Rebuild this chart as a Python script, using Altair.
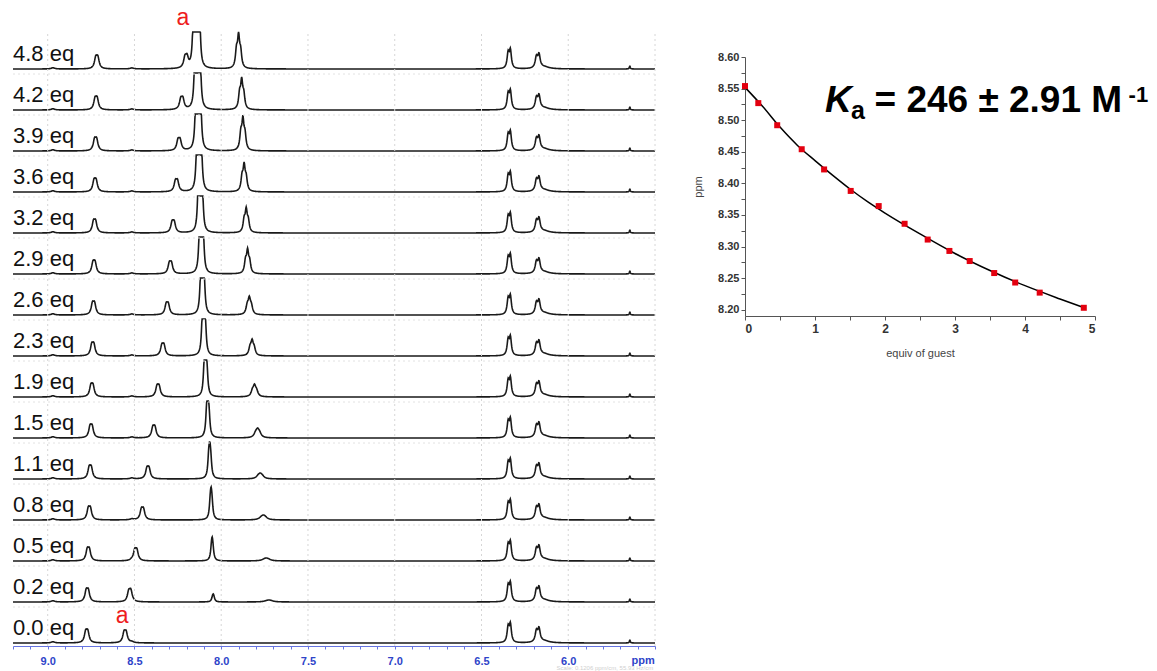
import numpy as np
import pandas as pd
import altair as alt

alt.data_transformers.disable_max_rows()

# ---------------------------------------------------------------- titration data
EQUIV = [0.0, 0.2, 0.5, 0.8, 1.1, 1.5, 1.9, 2.3, 2.6, 2.9, 3.2, 3.6, 3.9, 4.2, 4.8]
TRACE_LABELS = [f"{e:.1f} eq" for e in EQUIV]

# observed shift of proton a (ppm) against equivalents of guest
ISO_X = [0.0, 0.19, 0.46, 0.81, 1.13, 1.51, 1.91, 2.28, 2.61, 2.92, 3.21, 3.56, 3.86, 4.21, 4.84]
ISO_Y = [8.554, 8.527, 8.492, 8.454, 8.422, 8.388, 8.364, 8.336, 8.311, 8.293, 8.277, 8.258, 8.243, 8.227, 8.203]

# 1:1 binding fit through the titration points
FIT_X = [0.0, 0.25, 0.5, 0.75, 1.0, 1.25, 1.5, 1.75, 2.0, 2.5, 3.0, 3.5, 4.0, 4.5, 4.85]
FIT_Y = [8.552, 8.522, 8.489, 8.460, 8.436, 8.413, 8.391, 8.371, 8.353, 8.320, 8.289, 8.262, 8.238, 8.217, 8.203]

# host proton near 8.77 ppm, drifting slightly upfield
SHIFT_H1 = [8.775, 8.772, 8.766, 8.760, 8.755, 8.750, 8.745, 8.740, 8.736, 8.733, 8.730, 8.727, 8.724, 8.721, 8.717]

# guest multiplet near 8.1 ppm: centre, height, line spacing
GUEST1_C = [8.040, 8.046, 8.052, 8.058, 8.066, 8.077, 8.090, 8.100, 8.108, 8.114, 8.120, 8.127, 8.132, 8.136, 8.142]
GUEST1_H = [0, 8, 24, 33, 38, 44, 50, 56, 62, 66, 70, 75, 80, 85, 95]
GUEST1_S = [0.004, 0.004, 0.004, 0.005, 0.006, 0.007, 0.008, 0.009, 0.010, 0.011, 0.012, 0.013, 0.014, 0.015, 0.017]

# guest multiplet near 7.8 ppm: centre, height, line width
GUEST2_C = [7.720, 7.725, 7.740, 7.757, 7.775, 7.790, 7.808, 7.822, 7.838, 7.848, 7.856, 7.868, 7.875, 7.882, 7.900]
GUEST2_H = [0, 2, 3, 5, 6, 10, 13, 17, 19, 26, 26, 30, 35, 33, 37]
GUEST2_W = [0.02, 0.02, 0.018, 0.015, 0.013, 0.011, 0.009, 0.008, 0.008, 0.007, 0.007, 0.007, 0.007, 0.007, 0.007]

# host signals that do not move: (centre ppm, height, line spacing, half width)
HOST_SIGNALS = [
    (6.340, 21.0, 0.013, 0.007),
    (6.176, 15.0, 0.015, 0.008),
]
# small features shared by all traces: (ppm, height, half width)
MINOR_LINES = [(6.140, 2.0, 0.035), (5.645, 3.0, 0.003), (8.970, 1.2, 0.012), (8.515, 1.0, 0.012)]

GRID_PPM = [9.0, 8.5, 8.0, 7.5, 7.0, 6.5, 6.0, 5.5]

# ---------------------------------------------------------------- spectra
STACK = 41.0   # vertical step between traces
CLIP = 37.0    # traces are cut off at this height

ppm = np.round(np.arange(9.2, 5.499, -0.002), 4)


def lorentz(c, h, w):
    return h * w * w / ((ppm - c) ** 2 + w * w)


def multiplet(centre, height, offsets, rel, w):
    """Sum of Lorentzian lines scaled so that the tallest point equals height."""
    m = np.zeros_like(ppm)
    for o, r in zip(offsets, rel):
        m += lorentz(centre + o, r, w)
    return m * (height / m.max())


frames = []
for i, e in enumerate(EQUIV):
    s = np.zeros_like(ppm)
    for c, h, w in MINOR_LINES:
        s += lorentz(c, h, w)
    for c, h, sp, w in HOST_SIGNALS:
        s += multiplet(c, h, [sp / 2, -sp / 2], [0.85, 1.0], w)
    s += multiplet(ISO_Y[i], 13.0, [0.006, -0.006], [1.0, 1.0], 0.009)
    s += multiplet(SHIFT_H1[i], 14.0, [0.006, -0.006], [1.0, 1.0], 0.009)
    if GUEST1_H[i] > 0:
        sp = GUEST1_S[i]
        s += multiplet(GUEST1_C[i], GUEST1_H[i], [sp, 0.0, -sp], [0.75, 1.0, 0.6], 0.006)
    if GUEST2_H[i] > 0:
        s += multiplet(GUEST2_C[i], GUEST2_H[i], [0.012, 0.0, -0.012], [0.55, 1.0, 0.5], GUEST2_W[i])
    frames.append(pd.DataFrame({
        "ppm": ppm,
        "v": np.round(STACK * i + np.minimum(s, CLIP), 2),
        "trace": i,
    }))
spec_df = pd.concat(frames, ignore_index=True)

x_nmr = alt.Scale(domain=[5.5, 9.2], reverse=True, nice=False, zero=False)
y_nmr = alt.Scale(domain=[-3, 643], nice=False, zero=False)

tick_vals = [round(5.5 + 0.1 * k, 1) for k in range(38)]
nmr_axis = alt.Axis(
    values=tick_vals,
    labelExpr="(datum.value > 5.9 && datum.value < 9.1 && abs(datum.value * 2 - round(datum.value * 2)) < 0.01) ? format(datum.value, '.1f') : ''",
    domainColor="#6674e0", domainWidth=1.2, tickColor="#6674e0", tickSize=3,
    labelColor="#2e44c9", labelFont="Liberation Sans", labelFontWeight="bold",
    labelFontSize=11, labelPadding=6, grid=False, title=None,
)


def nx(field):
    return alt.X(field, scale=x_nmr, axis=nmr_axis)


def ny(field):
    return alt.Y(field, scale=y_nmr, axis=None)


spectra = alt.Chart(spec_df).mark_line(color="#1a1a1a", strokeWidth=1.6).encode(
    x=nx("ppm:Q"), y=ny("v:Q"), detail="trace:N",
)

vgrid = alt.Chart(pd.DataFrame({"ppm": GRID_PPM, "lo": -3.0, "hi": 611.0})).mark_rule(
    color="#d6d6d6", strokeDash=[2, 3], strokeWidth=1
).encode(x=nx("ppm:Q"), y=ny("lo:Q"), y2="hi:Q")

hgrid = alt.Chart(pd.DataFrame({
    "v": [STACK * i - 5 for i in range(1, 15)], "p0": 9.2, "p1": 5.5,
})).mark_rule(color="#e2e2e2", strokeDash=[2, 3], strokeWidth=1).encode(
    y=ny("v:Q"), x=nx("p0:Q"), x2="p1:Q",
)

trace_text = alt.Chart(pd.DataFrame({
    "label": TRACE_LABELS,
    "v": [STACK * i + 8 for i in range(len(EQUIV))],
    "p": 9.2,
})).mark_text(align="left", baseline="alphabetic", font="Liberation Sans", fontSize=22, color="#111111").encode(
    x=nx("p:Q"), y=ny("v:Q"), text="label:N",
)

a_text = alt.Chart(pd.DataFrame({
    "ppm": [ISO_Y[0], ISO_Y[-1]],
    "v": [20.0, 618.0],
    "t": ["a", "a"],
})).mark_text(align="center", baseline="alphabetic", font="Liberation Sans", fontSize=23, color="#ee1d1d", dx=-3).encode(
    x=nx("ppm:Q"), y=ny("v:Q"), text="t:N",
)

ppm_unit = alt.Chart(pd.DataFrame({"t": ["ppm"], "p": [5.568], "v": [-18.0]})).mark_text(
    align="center", baseline="middle", font="Liberation Sans", fontSize=11, fontWeight="bold", color="#2e44c9"
).encode(x=nx("p:Q"), y=ny("v:Q"), text="t:N")

scale_note = alt.Chart(pd.DataFrame({"t": ["Scale: 0.1206 ppm/cm, 55.93 Hz/cm"], "p": [5.51], "v": [-25.0]})).mark_text(
    align="right", baseline="middle", font="Liberation Sans", fontSize=6, color="#cfcfcf"
).encode(x=nx("p:Q"), y=ny("v:Q"), text="t:N")

left = alt.layer(spectra, vgrid, hgrid, trace_text, a_text, ppm_unit, scale_note).properties(
    width=642, height=646
)

# ---------------------------------------------------------------- isotherm
x_iso = alt.Scale(domain=[0, 5], nice=False, zero=False)
# the plot keeps its top 57 px free, the axis runs from 8.60 down to 8.19
y_iso = alt.Scale(domain=[8.19, 8.60], range=[316, 57], nice=False, zero=False)

iso_x_axis = alt.Axis(
    values=[k * 0.5 for k in range(11)],
    labelExpr="datum.value % 1 == 0 ? format(datum.value, 'd') : ''",
    domainColor="#555555", tickColor="#555555", tickSize=4,
    labelColor="#333333", labelFont="Liberation Sans", labelFontWeight="bold", labelFontSize=12,
    labelPadding=3, grid=False,
    title="equiv of guest", titleFont="Liberation Sans", titleFontWeight="normal",
    titleFontSize=11, titleColor="#444444", titlePadding=13,
)
iso_y_axis = alt.Axis(
    values=[round(8.2 + 0.025 * k, 3) for k in range(17)],
    labelExpr="round(datum.value * 1000) % 50 == 0 ? format(datum.value, '.2f') : ''",
    domainColor="#555555", tickColor="#555555", tickSize=4,
    labelColor="#333333", labelFont="Liberation Sans", labelFontWeight="bold", labelFontSize=11,
    labelPadding=2, grid=False,
    title="ppm", titleFont="Liberation Sans", titleFontWeight="normal",
    titleFontSize=11, titleColor="#444444", titlePadding=14,
)


def ix(field):
    return alt.X(field, scale=x_iso, axis=iso_x_axis)


def iy(field):
    return alt.Y(field, scale=y_iso, axis=iso_y_axis)


fit = alt.Chart(pd.DataFrame({"x": FIT_X, "y": FIT_Y})).mark_line(
    color="#000000", strokeWidth=1.5, interpolate="monotone"
).encode(x=ix("x:Q"), y=iy("y:Q"))

pts = alt.Chart(pd.DataFrame({"x": ISO_X, "y": ISO_Y})).mark_square(
    color="#e3000f", size=36, opacity=1
).encode(x=ix("x:Q"), y=iy("y:Q"))


def ka_piece(text, x, y, size, italic=False):
    kw = dict(align="left", baseline="alphabetic", font="Liberation Sans",
              fontSize=size, fontWeight="bold", color="#000000")
    if italic:
        kw["fontStyle"] = "italic"
    return alt.Chart(pd.DataFrame({"t": [text], "x": [x], "y": [y]})).mark_text(**kw).encode(
        x=ix("x:Q"), y=iy("y:Q"), text="t:N",
    )


# association constant written in the upper right of the isotherm
ka_K = ka_piece("K", 1.143, 8.513, 37, italic=True)
ka_sub = ka_piece("a", 1.514, 8.502, 25)
ka_main = ka_piece("= 246 ± 2.91 M", 1.85, 8.513, 37)
ka_sup = ka_piece("-1", 5.48, 8.529, 22)

right = alt.layer(fit, pts, ka_K, ka_sub, ka_main, ka_sup).properties(width=350, height=316)

chart = alt.hconcat(left, right, spacing=33).properties(
    padding={"left": 9, "top": 0, "right": 0, "bottom": 0}
).configure_view(stroke=None)

chart.save("out.html", embed_options={"renderer": "svg", "actions": False})
